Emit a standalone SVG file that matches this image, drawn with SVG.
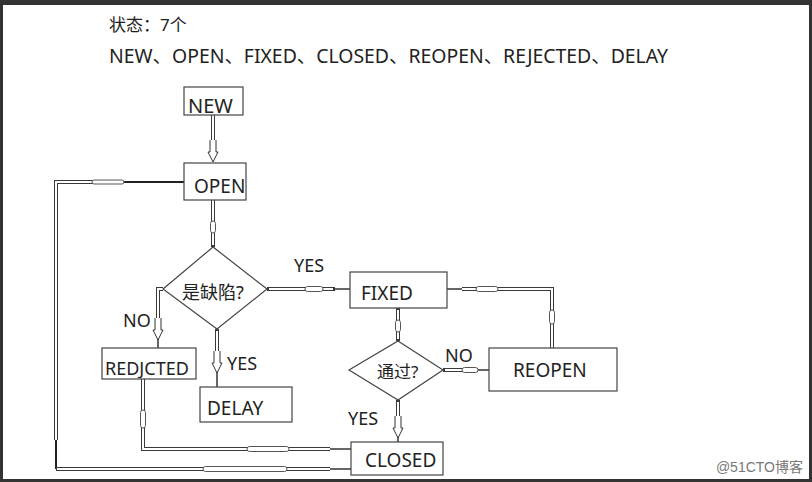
<svg xmlns="http://www.w3.org/2000/svg" xmlns:xlink="http://www.w3.org/1999/xlink" width="812" height="482" viewBox="0 0 812 482">
<style>
.box{fill:#fff;stroke:#444;stroke-width:1.2}
.t{font-family:"Noto Sans","Noto Sans CJK SC",sans-serif;fill:#222}
.o{fill:none;stroke:#3a3a3a;stroke-width:4}
.i{fill:none;stroke:#fff;stroke-width:2}
.ov{fill:#fff;stroke:#555;stroke-width:1}
.ah{fill:#fff;stroke:#333;stroke-width:1}
</style>
<defs>
<path id="arr" d="M-3,-22 V-10 H-5 L0,0 L5,-10 H3 V-22"/>
</defs>
<rect x="0" y="0" width="812" height="482" fill="#333"/>
<rect x="3" y="5" width="806" height="474" fill="#fff"/>

<text class="t" x="109" y="31" font-size="17">状态：7个</text>
<text class="t" x="109" y="63" font-size="19" textLength="559" lengthAdjust="spacingAndGlyphs">NEW、OPEN、FIXED、CLOSED、REOPEN、REJECTED、DELAY</text>

<g id="connectors">
  <path class="o" d="M213,115 V150"/><path class="i" d="M213,115 V150"/>
  <path class="o" d="M213,200 V247"/><path class="i" d="M213,200 V245"/>
  <path class="o" d="M267,289 H335"/><path class="i" d="M269,289 H333"/>
  <path d="M335,289 H350" stroke="#333" stroke-width="1.5"/>
  <path class="o" d="M163,289 H158 V330"/><path class="i" d="M163,289 H158 V330"/>
  <path d="M158,338 V348" stroke="#333" stroke-width="1.5"/>
  <path class="o" d="M217,329 V360"/><path class="i" d="M217,331 V360"/>
  <path d="M217,372 V387" stroke="#333" stroke-width="1.5"/>
  <path class="o" d="M462,289 H552 V348"/><path class="i" d="M462,289 H552 V348"/>
  <path d="M447,289 H462" stroke="#333" stroke-width="1.5"/>
  <path class="o" d="M398,308 V341"/><path class="i" d="M398,310 V339"/>
  <path class="o" d="M443,370 H478"/><path class="i" d="M445,370 H478"/>
  <path d="M478,370 H489" stroke="#333" stroke-width="1.5"/>
  <path class="o" d="M398,400 V425"/><path class="i" d="M398,402 V425"/>
  <path d="M398,436 V442" stroke="#333" stroke-width="1.5"/>
  <path class="o" d="M143,379 V449 H330"/><path class="i" d="M143,379 V449 H330"/>
  <path d="M330,449 H351" stroke="#333" stroke-width="1.5"/>
  <path d="M184,182 H120" stroke="#222" stroke-width="1.8"/>
  <path class="o" d="M120,182 H56 V440"/><path class="i" d="M120,182 H56 V440"/>
  <path d="M56,440 V469" stroke="#222" stroke-width="2"/>
  <path class="o" d="M56,469 H330"/><path class="i" d="M57,469 H330"/>
  <path d="M330,469 H351" stroke="#333" stroke-width="1.5"/>
  <use xlink:href="#arr" class="ah" transform="translate(213,162)"/>
  <use xlink:href="#arr" class="ah" transform="translate(158,340)"/>
  <use xlink:href="#arr" class="ah" transform="translate(217,373)"/>
  <use xlink:href="#arr" class="ah" transform="translate(398,438)"/>
  <rect class="ov" x="210.5" y="221" width="5" height="12" rx="2.5"/>
  <rect class="ov" x="305" y="286.5" width="18" height="5" rx="2.5"/>
  <rect class="ov" x="395.5" y="320" width="5" height="12" rx="2.5"/>
  <rect class="ov" x="462" y="367.5" width="16" height="5" rx="2.5"/>
  <rect class="ov" x="476" y="286.5" width="22" height="5" rx="2.5"/>
  <rect class="ov" x="549.5" y="310" width="5" height="14" rx="2.5"/>
  <rect class="ov" x="140.5" y="410" width="5" height="18" rx="2.5"/>
  <rect class="ov" x="247" y="446.5" width="42" height="5" rx="2.5"/>
  <rect class="ov" x="92" y="180" width="32" height="4" rx="2" fill="#bbb"/>
  <rect class="ov" x="203" y="466.5" width="84" height="5" rx="2.5"/>
</g>

<g id="new"><rect class="box" x="184" y="87" width="59" height="28"/><text class="t" x="188" y="113" font-size="20">NEW</text></g>
<g id="open"><rect class="box" x="184" y="163" width="62" height="37"/><text class="t" x="194" y="193" font-size="19">OPEN</text></g>
<g id="isdefect"><polygon class="box" points="213,247 267,289 217,329 163,289"/><text class="t" x="182" y="299" font-size="18">是缺陷?</text></g>
<g id="fixed"><rect class="box" x="350" y="272" width="97" height="36"/><text class="t" x="361" y="300" font-size="19">FIXED</text></g>
<g id="reopen"><rect class="box" x="489" y="348" width="128" height="43"/><text class="t" x="513" y="377" font-size="19">REOPEN</text></g>
<g id="pass"><polygon class="box" points="398,341 443,370 398,400 349,370"/><text class="t" x="377" y="378" font-size="17">通过?</text></g>
<g id="rejected"><rect class="box" x="102" y="348" width="94" height="31"/><text class="t" x="105" y="375" font-size="18">REDJCTED</text></g>
<g id="delay"><rect class="box" x="200" y="387" width="92" height="35"/><text class="t" x="207" y="415" font-size="19">DELAY</text></g>
<g id="closed"><rect class="box" x="351" y="442" width="92" height="33"/><text class="t" x="365" y="467" font-size="19">CLOSED</text></g>

<g id="labels">
  <text class="t" x="294" y="272" font-size="18">YES</text>
  <text class="t" x="123" y="327" font-size="18">NO</text>
  <text class="t" x="227" y="370" font-size="18">YES</text>
  <text class="t" x="445" y="362" font-size="18">NO</text>
  <text class="t" x="348" y="425" font-size="18">YES</text>
</g>
<text x="803" y="472" text-anchor="end" font-family="'Liberation Sans','Noto Sans CJK SC',sans-serif" font-size="14" fill="#777">@51CTO博客</text>
</svg>
